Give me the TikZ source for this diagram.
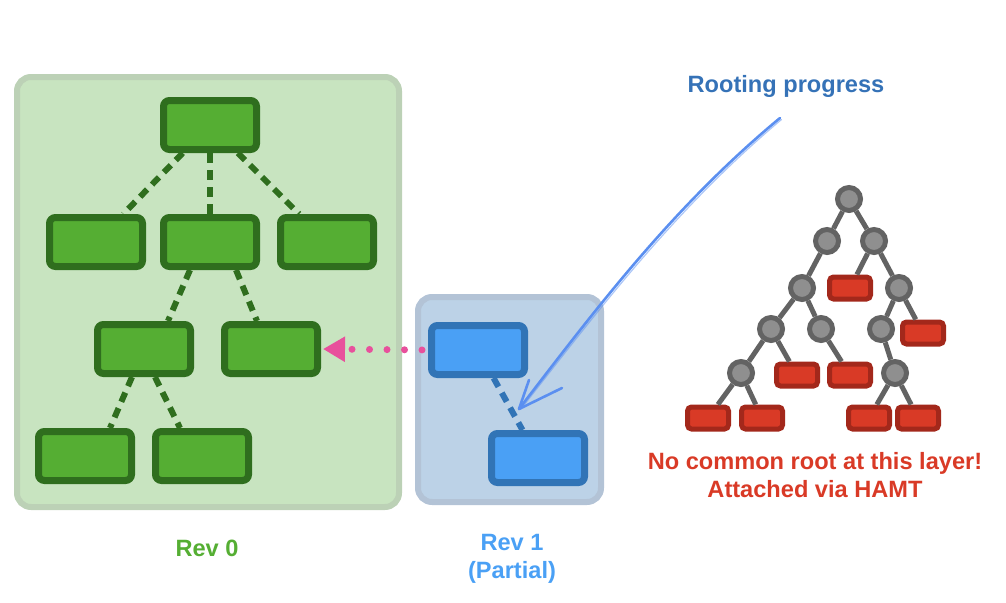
\documentclass[tikz,border=0pt]{standalone}
\usepackage{fontspec}
\setmainfont{Liberation Sans}
\usetikzlibrary{calc,arrows.meta}
\definecolor{gfill}{HTML}{55AE33}
\definecolor{gdraw}{HTML}{2F6E1E}
\definecolor{gpanel}{HTML}{C8E4C0}
\definecolor{gpanelb}{HTML}{BCD1B6}
\definecolor{bfill}{HTML}{4AA0F5}
\definecolor{bdraw}{HTML}{3174B6}
\definecolor{bpanel}{HTML}{BCD2E7}
\definecolor{bpanelb}{HTML}{B3C3D6}
\definecolor{rfill}{HTML}{D93A26}
\definecolor{rdraw}{HTML}{A3281B}
\definecolor{cfill}{HTML}{8F8F8F}
\definecolor{cdraw}{HTML}{636363}
\definecolor{pinkc}{HTML}{E8509C}
\definecolor{handc}{HTML}{5B8FF0}
\definecolor{rootc}{HTML}{3572B7}
\tikzset{
  gbox/.style={rectangle, rounded corners=6pt, minimum width=93pt, minimum height=49pt, inner sep=0pt, line width=7pt, draw=gdraw, fill=gfill},
  bbox/.style={gbox, draw=bdraw, fill=bfill},
  rbox/.style={rectangle, rounded corners=4pt, minimum width=41pt, minimum height=22pt, inner sep=0pt, line width=5pt, draw=rdraw, fill=rfill},
  cnode/.style={circle, minimum size=23pt, inner sep=0pt, line width=5pt, draw=cdraw, fill=cfill},
  gdash/.style={line width=6pt, draw=gdraw, dash pattern=on 10pt off 7pt},
  bdash/.style={gdash, draw=bdraw},
  hedge/.style={line width=5pt, draw=cdraw},
  panel/.style={rounded corners=14pt, line width=6pt},
  lbl/.style={font=\fontsize{23.6}{28}\selectfont\bfseries, align=center, inner sep=0pt},
  hand/.style={line width=2.6pt, draw=handc, line cap=round, line join=round}
}
\begin{document}
\begin{tikzpicture}[x=1pt,y=-1pt]
\useasboundingbox (0,0) rectangle (1006,602);
% panels
\draw[panel, fill=gpanel, draw=gpanelb] (17,77) rectangle (399,507);
\draw[panel, fill=bpanel, draw=bpanelb] (418,297) rectangle (601,502);
% green tree
\node[gbox] (g1) at (210,125) {};
\node[gbox] (g2) at (96,242) {};
\node[gbox] (g3) at (210,242) {};
\node[gbox] (g4) at (327,242) {};
\node[gbox] (g5) at (144,349) {};
\node[gbox] (g6) at (271,349) {};
\node[gbox] (g7) at (85,456) {};
\node[gbox] (g8) at (202,456) {};
\draw[gdash] (g1) -- (g2);
\draw[gdash] (g1.south) -- (g3.north);
\draw[gdash] (g1) -- (g4);
\draw[gdash] ($(g3.south)+(-20,0)$) -- ($(g5.north)+(24,0)$);
\draw[gdash] ($(g3.south)+(26,0)$) -- ($(g6.north)+(-14,0)$);
\draw[gdash] ($(g5.south)+(-12,0)$) -- ($(g7.north)+(25,0)$);
\draw[gdash] ($(g5.south)+(11,0)$) -- ($(g8.north)+(-22,0)$);
% blue tree
\node[bbox] (b1) at (478,350) {};
\node[bbox] (b2) at (538,458) {};
\draw[bdash] (b1) -- (b2);
% pink dotted arrow
\draw[pinkc, line width=7pt, line cap=round, dash pattern=on 0pt off 17.5pt, shorten <=6pt, shorten >=2pt,
  -{Triangle[length=22pt,width=24pt,line cap=butt]}] (b1.west) -- (g6.east);
% HAMT tree
\node[cnode] (c0) at (849,199) {};
\node[cnode] (c1a) at (827,241) {};
\node[cnode] (c1b) at (874,241) {};
\node[cnode] (c2a) at (802,288) {};
\node[rbox] (r2) at (850,288) {};
\node[cnode] (c2b) at (899,288) {};
\node[cnode] (c3a) at (771,329) {};
\node[cnode] (c3b) at (821,329) {};
\node[cnode] (c3c) at (881,329) {};
\node[rbox] (r3) at (923,333) {};
\node[cnode] (c4a) at (741,373) {};
\node[rbox] (r4a) at (797,375) {};
\node[rbox] (r4b) at (850,375) {};
\node[cnode] (c4b) at (895,373) {};
\node[rbox] (r5a) at (708,418) {};
\node[rbox] (r5b) at (762,418) {};
\node[rbox] (r5c) at (869,418) {};
\node[rbox] (r5d) at (918,418) {};
\draw[hedge] (c0) -- (c1a);
\draw[hedge] (c0) -- (c1b);
\draw[hedge] (c1a) -- (c2a);
\draw[hedge] (c1b) -- (r2);
\draw[hedge] (c1b) -- (c2b);
\draw[hedge] (c2a) -- (c3a);
\draw[hedge] (c2a) -- (c3b);
\draw[hedge] (c2b) -- (c3c);
\draw[hedge] (c2b) -- (r3);
\draw[hedge] (c3a) -- (c4a);
\draw[hedge] (c3a) -- (r4a);
\draw[hedge] (c3b) -- (r4b);
\draw[hedge] (c3c) -- (c4b);
\draw[hedge] (c4a) -- (r5a);
\draw[hedge] (c4a) -- (r5b);
\draw[hedge] (c4b) -- (r5c);
\draw[hedge] (c4b) -- (r5d);
% labels
\node[lbl, text=rootc] (lroot) at (786,86) {Rooting progress};
\node[lbl, text=rfill] (lhamt) at (815,475) {No common root at this layer!\\Attached via HAMT};
\node[lbl, text=gfill] (lrev0) at (207,548) {Rev 0};
\node[lbl, text=bfill] (lrev1) at (512,559) {Rev 1\\(Partial)};
% hand-drawn arrow
\coordinate (hs) at (780,118);
\coordinate (ht) at (519,409);
\draw[hand] (hs) .. controls (674,206) and (598,306) .. (ht);
\draw[hand, line width=1.2pt, opacity=.5] ($(hs)+(1.5,1.5)$) .. controls (676,208) and (600,308) .. ($(ht)+(1.5,0.5)$);
\draw[hand] (529,380) -- (ht) -- (562,388);
\end{tikzpicture}
\end{document}
